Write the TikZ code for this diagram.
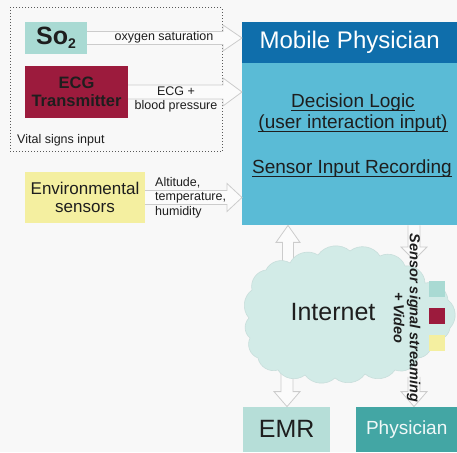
\documentclass[tikz,border=0pt]{standalone}
\usepackage{fontspec}
\setmainfont{Liberation Sans}
\usetikzlibrary{calc,shapes.symbols}
\definecolor{bg}{HTML}{F8F8F8}
\definecolor{soteal}{HTML}{A9DAD3}
\definecolor{ecgred}{HTML}{9C1B3D}
\definecolor{envyel}{HTML}{F4EFA0}
\definecolor{mpdark}{HTML}{0F6EAB}
\definecolor{mplight}{HTML}{5ABBD6}
\definecolor{cloudc}{HTML}{D2EBE7}
\definecolor{emrc}{HTML}{B6DED8}
\definecolor{physc}{HTML}{43A6A4}
\definecolor{arrfill}{HTML}{FBFBFB}
\definecolor{arrline}{HTML}{CCCCCC}
\definecolor{txt}{HTML}{1E1E1E}
\newcommand\myul[1]{\leavevmode\setbox0\hbox{#1}\rlap{\rule[-3pt]{\wd0}{0.7pt}}\box0}
% horizontal block arrow: start node anchor, end anchor (x used), body half, head half, head length
\newcommand\harrow[5]{%
  \path[fill=arrfill,draw=arrline,line width=0.8pt] let \p1=(#1),\p2=(#2) in
  ({\x1},{\y1+#3}) -- ({\x2-#5},{\y1+#3}) -- ({\x2-#5},{\y1+#4}) -- ({\x2},{\y1}) -- ({\x2-#5},{\y1-#4}) -- ({\x2-#5},{\y1-#3}) -- ({\x1},{\y1-#3});}
% vertical block arrow: start, end (y used), body half, head half, signed head length
\newcommand\varrow[5]{%
  \path[fill=arrfill,draw=arrline,line width=0.8pt] let \p1=(#1),\p2=(#2), \n1={\y2-(#5)} in
  ({\x1-#3},{\y1}) -- ({\x1-#3},{\n1}) -- ({\x1-#4},{\n1}) -- ({\x1},{\y2}) -- ({\x1+#4},{\n1}) -- ({\x1+#3},{\n1}) -- ({\x1+#3},{\y1});}
\tikzset{
  box/.style={inner sep=0pt, draw=none},
  lbl/.style={font=\fontsize{12.5}{14.5}\selectfont, text=txt},
  puff/.style={bend left=48},
}
\begin{document}
\begin{tikzpicture}[x=1pt,y=1pt]
\fill[bg] (0,0) rectangle (457,452);
\useasboundingbox (0,0) rectangle (457,452);

% vital signs frame
\node[draw=black!65, dotted, line width=1pt, minimum width=212pt, minimum height=144pt, inner sep=0pt] (vital) at (116,372) {};
\node[lbl, anchor=west, inner sep=0pt] (vl) at (17,312) {Vital signs input};

% sensor boxes
\node[box, fill=soteal, minimum width=62pt, minimum height=32pt, text=txt, font=\fontsize{25}{25}\bfseries] (so2) at (56,414) {So\raisebox{-4pt}{\fontsize{14}{14}\selectfont 2}};
\node[box, fill=ecgred, minimum width=103pt, minimum height=52pt, align=center, text=txt, font=\fontsize{16.5}{18.5}\bfseries] (ecg) at (76.5,360) {ECG\\Transmitter};
\node[box, fill=envyel, minimum width=120pt, minimum height=51pt, align=center, text=txt, font=\fontsize{17}{18}\selectfont] (env) at (85,254.5) {Environmental\\sensors};

% mobile physician
\node[box, fill=mplight, minimum width=215pt, minimum height=203pt, anchor=north west] (mp) at (242,430) {};
\node[box, fill=mpdark, minimum width=215pt, minimum height=41pt, anchor=north, text=white, font=\fontsize{24}{24}\selectfont] (mph) at (mp.north) {Mobile Physician};
\node[align=center, text=txt, font=\fontsize{19}{21}\selectfont] (dl) at (353,339) {\myul{Decision Logic}\\\myul{(user interaction input)}};
\node[text=txt, font=\fontsize{19}{21}\selectfont] (sir) at (352,283) {\myul{Sensor Input Recording}};

% bottom boxes
\node[box, fill=emrc, minimum width=87pt, minimum height=45pt, anchor=south west, text=txt, font=\fontsize{25}{25}\selectfont] (emr) at (243,0) {EMR};
\node[box, fill=physc, minimum width=101pt, minimum height=45pt, anchor=south west, text=white!92!physc, font=\fontsize{19}{19}\selectfont] (phys) at (356,0) {Physician};

% input arrows
\harrow{so2.east}{mp.west}{6.5pt}{13pt}{19pt}
\harrow{ecg.east}{mp.west}{7pt}{14pt}{19pt}
\harrow{env.east}{mp.west}{7pt}{14pt}{15pt}
\node[lbl] (oxl) at (164,415) {oxygen saturation};
\node[lbl, align=center] (ecgl) at (176,352.5) {ECG +\\blood pressure};
\node[lbl, align=left, anchor=west, inner sep=0pt] (envl) at (155,254.5) {Altitude,\\temperature,\\humidity};

% vertical arrows
\coordinate (upbase) at (288,187);
\varrow{upbase}{mp.south -| upbase}{5.5pt}{12pt}{17pt}
\coordinate (dnbase) at (287,80);
\varrow{dnbase}{emr.north -| dnbase}{6pt}{13pt}{-15pt}
\coordinate (sttip) at (414,192);
\varrow{mp.south -| sttip}{sttip}{6pt}{13pt}{-13pt}
\coordinate (stbase) at (414,75);
\varrow{stbase}{phys.north -| stbase}{6pt}{13pt}{-15pt}

% cloud (Internet)
\fill[cloudc, draw=cloudc!88!gray, line width=0.6pt]
  (249,134) to[puff] (252,162) to[puff] (266,182) to[puff] (290,189)
  to[puff] (318,197) to[puff] (350,201) to[puff] (380,196) to[puff] (405,186)
  to[puff] (425,169) to[puff] (448,152) to[puff] (450,124) to[puff] (432,112)
  to[puff] (418,94) to[puff] (395,82) to[puff] (365,78) to[puff] (335,74)
  to[puff] (305,77) to[puff] (278,82) to[puff] (258,94) to[puff] (250,114)
  to[puff] cycle;
\node[text=txt, font=\fontsize{25}{25}\selectfont] (inet) at (333,140) {Internet};

% legend squares
\node[box, fill=soteal, minimum size=16pt] (lg1) at (437,162.5) {};
\node[box, fill=ecgred, minimum size=16pt] (lg2) at (437,136) {};
\node[box, fill=envyel, minimum size=16pt] (lg3) at (437,109) {};

% streaming label
\node[rotate=-90, align=center, text=txt, font=\fontsize{14.5}{16}\bfseries\itshape] (stream) at (407,134) {Sensor signal streaming\\+ Video};
\end{tikzpicture}
\end{document}
